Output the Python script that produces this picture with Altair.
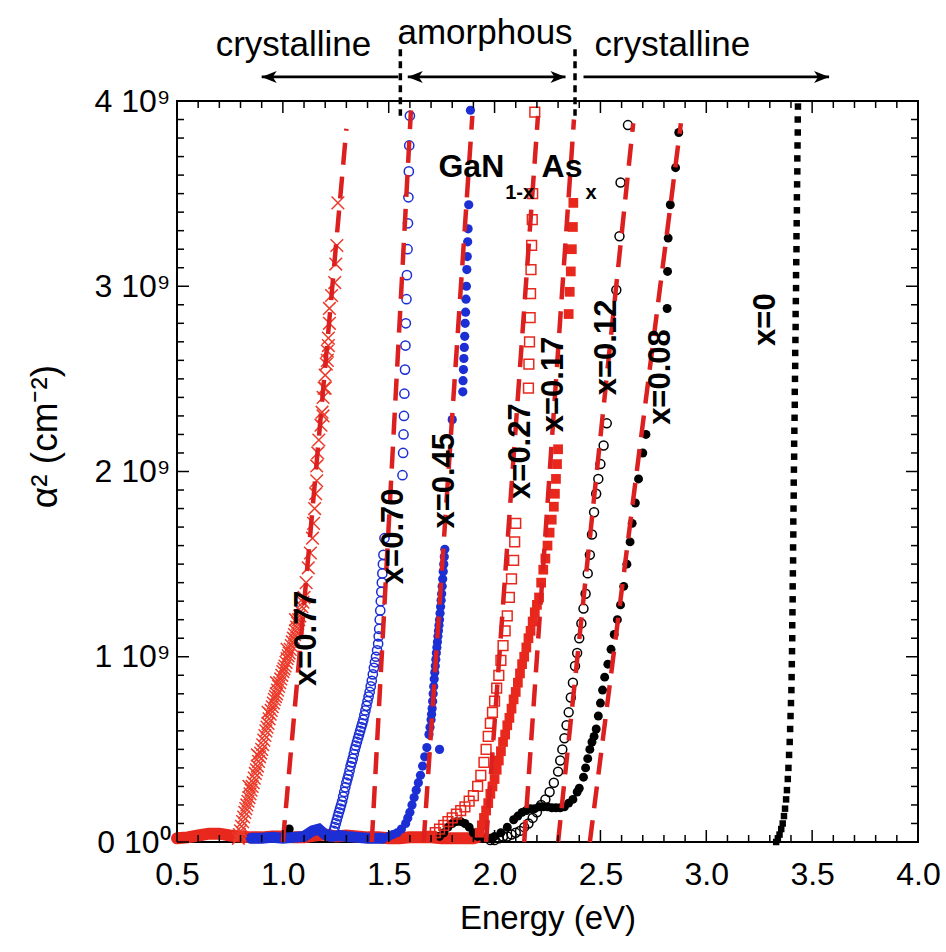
import altair as alt
import pandas as pd

RED = "#e8281c"
XRED = "#ec3a2a"
FIT = "#dc2020"
BLUE = "#1b2fd4"
BLACK = "#000000"
FONT = "Liberation Sans"

# ---- data: (photon energy in eV, alpha^2 in units of 1e9 cm^-2) ----
s077 = [(0.79,0.02),(0.80,0.06),(0.81,0.11),(0.82,0.16),(0.83,0.20),(0.84,0.24),(0.85,0.28),(0.86,0.32),
        (0.87,0.37),(0.88,0.41),(0.89,0.46),(0.90,0.50),(0.91,0.55),(0.92,0.60),(0.93,0.64),(0.94,0.69),
        (0.95,0.73),(0.96,0.77),(0.97,0.80),(0.98,0.84),(0.99,0.88),(1.00,0.92),(1.01,0.95),(1.02,0.99),
        (1.03,1.02),(1.04,1.06),(1.05,1.10),(1.06,1.14),(1.07,1.18),(1.08,1.22),(1.09,1.27),(1.10,1.32),
        (1.11,1.40),(1.12,1.48),(1.13,1.56),(1.14,1.64),(1.145,1.72),(1.15,1.80),(1.155,1.88),(1.16,1.95),
        (1.16,2.03),(1.165,2.10),(1.17,2.17),(1.18,2.25),(1.185,2.32),(1.19,2.40),(1.195,2.45),(1.20,2.52),
        (1.205,2.58),(1.21,2.65),(1.215,2.72),(1.22,2.80),(1.22,2.88),(1.23,2.95),(1.245,3.02),(1.25,3.12),
        (1.255,3.22),(1.26,3.45)]
s077_band = [(0.795,0.04),(0.805,0.085),(0.815,0.135),(0.825,0.18),(0.835,0.22),(0.845,0.26),(0.855,0.30),
             (0.865,0.345),(0.875,0.39),(0.885,0.435),(0.895,0.48),(0.905,0.525),(0.915,0.575),(0.925,0.62),
             (0.935,0.665),(0.945,0.71),(0.955,0.75),(0.965,0.785),(0.975,0.82),(0.985,0.86),(0.995,0.90),
             (1.005,0.935),(1.015,0.97),(1.025,1.005),(1.035,1.04),(1.045,1.08),(1.055,1.12),(1.065,1.16),
             (1.075,1.20),(1.085,1.245),(1.095,1.295),(0.84,0.30),(0.88,0.47),(0.93,0.70),(0.97,0.86),
             (1.02,1.04),(1.06,1.20),(1.19,2.30),(1.20,2.45),(1.21,2.60),(1.215,2.68)]
s070 = [(1.24,0.06),(1.25,0.10),(1.26,0.14),(1.27,0.18),(1.28,0.22),(1.29,0.27),(1.30,0.32),(1.31,0.36),
        (1.32,0.41),(1.33,0.45),(1.34,0.50),(1.35,0.54),(1.36,0.58),(1.37,0.62),(1.38,0.66),(1.39,0.71),
        (1.40,0.76),(1.41,0.81),(1.42,0.87),(1.43,0.94),(1.44,1.00),(1.45,1.07),(1.455,1.15),(1.46,1.25),
        (1.465,1.35),(1.47,1.45),(1.475,1.55),(1.48,1.64),
        (1.565,1.98),(1.568,2.10),(1.570,2.20),
        (1.572,2.30),(1.574,2.42),(1.577,2.55),(1.579,2.68),(1.581,2.80),(1.584,2.93),(1.586,3.06),
        (1.589,3.20),(1.591,3.34),(1.593,3.48),(1.595,3.62),(1.597,3.76),(1.600,3.92)]
s070_band = [(1.245,0.08),(1.255,0.12),(1.265,0.16),(1.275,0.20),(1.285,0.245),(1.295,0.295),(1.305,0.34),
             (1.315,0.385),(1.325,0.43),(1.335,0.475),(1.345,0.52),(1.355,0.56),(1.365,0.60),(1.375,0.64),
             (1.385,0.685),(1.395,0.735),(1.405,0.785),(1.415,0.84),(1.425,0.905),(1.435,0.97),
             (1.445,1.035),(1.4525,1.11),(1.4575,1.20),(1.4625,1.30),(1.4675,1.40),(1.4725,1.50)]
s045 = [(1.47,0.02),(1.50,0.03),(1.52,0.04),(1.54,0.05),(1.56,0.07),(1.58,0.10),(1.59,0.13),(1.60,0.16),
        (1.61,0.20),(1.62,0.24),(1.63,0.28),(1.64,0.32),(1.65,0.36),(1.66,0.41),(1.67,0.46),(1.68,0.51),
        (1.69,0.58),(1.70,0.66),(1.705,0.72),(1.71,0.80),(1.715,0.88),(1.72,0.95),(1.725,1.02),(1.73,1.08),
        (1.735,1.14),(1.74,1.20),(1.745,1.27),(1.75,1.34),(1.755,1.42),(1.76,1.50),(1.765,1.58),
        (1.74,0.50),
        (1.80,2.28),(1.850,2.43),(1.851,2.49),(1.853,2.55),(1.855,2.61),(1.857,2.67),(1.859,2.73),
        (1.861,2.80),(1.863,2.86),(1.865,2.93),(1.867,3.00),(1.869,3.09),(1.871,3.16),(1.873,3.24),
        (1.875,3.31),(1.878,3.44),(1.886,3.95)]
s045_band = [(1.695,0.62),(1.7025,0.69),(1.7075,0.76),(1.7125,0.84),(1.7175,0.915),(1.7225,0.985),
             (1.7275,1.05),(1.7325,1.11),(1.7375,1.17),(1.7425,1.235),(1.7475,1.305),(1.7525,1.38),
             (1.7575,1.46),(1.7625,1.54)]
s027 = [(1.70,0.03),(1.72,0.05),(1.74,0.07),(1.76,0.09),(1.78,0.11),(1.80,0.13),(1.82,0.15),(1.84,0.17),
        (1.86,0.19),(1.88,0.22),(1.90,0.25),(1.92,0.30),(1.935,0.36),(1.95,0.43),(1.96,0.50),(1.97,0.57),
        (1.98,0.64),(1.99,0.70),(2.00,0.76),(2.01,0.83),(2.02,0.90),(2.03,0.98),(2.04,1.06),(2.05,1.14),
        (2.06,1.22),(2.07,1.32),(2.08,1.42),(2.09,1.52),(2.095,1.62),(2.10,1.72),
        (2.16,2.45),(2.162,2.58),(2.165,2.70),(2.168,2.83),(2.17,2.96),(2.172,3.09),(2.175,3.22),
        (2.178,3.36),(2.18,3.50),(2.19,3.94)]
s017 = [(1.93,0.05),(1.94,0.09),(1.95,0.13),(1.96,0.17),(1.97,0.21),(1.98,0.26),(1.99,0.30),(2.00,0.34),
        (2.01,0.39),(2.02,0.44),(2.03,0.49),(2.04,0.54),(2.05,0.58),(2.06,0.63),(2.07,0.67),(2.08,0.72),
        (2.09,0.77),(2.10,0.81),(2.11,0.86),(2.12,0.91),(2.13,0.96),(2.14,1.00),(2.15,1.05),(2.16,1.10),
        (2.17,1.14),(2.18,1.19),(2.19,1.24),(2.20,1.28),(2.21,1.32),(2.22,1.40),(2.23,1.47),(2.24,1.53),
        (2.25,1.60),(2.26,1.67),(2.27,1.74),(2.28,1.81),(2.285,1.88),(2.29,1.96),(2.295,2.04),(2.30,2.12),
        (2.35,2.85),(2.355,2.97),(2.36,3.08),(2.365,3.20),(2.37,3.32),(2.372,3.45)]
s012 = [(1.98,0.01),(2.00,0.01),(2.02,0.02),(2.04,0.03),(2.06,0.03),(2.08,0.04),(2.10,0.05),(2.12,0.06),
        (2.14,0.08),(2.16,0.10),(2.18,0.13),(2.20,0.16),(2.22,0.20),(2.24,0.23),(2.26,0.27),(2.28,0.32),
        (2.30,0.38),(2.31,0.44),(2.32,0.50),(2.33,0.56),(2.34,0.63),(2.35,0.70),(2.36,0.78),(2.37,0.86),
        (2.38,0.95),(2.39,1.02),(2.40,1.10),(2.41,1.18),(2.42,1.26),(2.43,1.34),(2.44,1.45),(2.45,1.55),
        (2.46,1.66),(2.47,1.78),(2.48,1.88),(2.49,1.96),(2.50,2.04),(2.515,2.14),(2.53,2.26),
        (2.575,2.98),(2.59,3.27),(2.595,3.56),(2.63,3.87)]
s008 = [(1.03,0.07),(1.74,0.03),(1.76,0.05),(1.78,0.08),(1.80,0.10),(1.82,0.11),(1.84,0.11),(1.86,0.10),
        (1.88,0.08),(1.90,0.05),(1.92,0.03),(1.95,0.02),(1.98,0.02),(2.00,0.03),(2.03,0.05),(2.06,0.08),
        (2.09,0.12),(2.11,0.14),(2.13,0.16),(2.15,0.17),(2.17,0.18),(2.19,0.18),(2.21,0.19),(2.23,0.19),
        (2.25,0.19),(2.27,0.185),(2.29,0.185),(2.31,0.185),(2.33,0.19),(2.35,0.21),(2.37,0.23),(2.39,0.27),
        (2.40,0.29),(2.42,0.35),(2.43,0.40),(2.44,0.45),(2.45,0.50),(2.46,0.54),(2.47,0.57),(2.48,0.61),
        (2.49,0.68),(2.50,0.75),(2.51,0.82),(2.52,0.89),(2.535,0.96),(2.55,1.04),(2.565,1.12),(2.58,1.20),
        (2.595,1.28),(2.61,1.38),(2.625,1.50),(2.64,1.62),(2.65,1.72),(2.665,1.83),(2.68,1.96),(2.70,2.10),
        (2.715,2.20),
        (2.815,2.88),(2.817,3.08),(2.82,3.26),(2.83,3.44),(2.855,3.64),(2.87,3.83)]
s000 = [(3.330,0.00),(3.338,0.02),(3.346,0.04),(3.354,0.07),(3.361,0.10),(3.367,0.14),(3.372,0.18),
        (3.377,0.23),(3.381,0.28),(3.385,0.34),(3.388,0.40),(3.391,0.47),(3.394,0.54),(3.396,0.61),
        (3.398,0.68),(3.400,0.75),(3.402,0.82),(3.403,0.89),(3.404,0.96),(3.405,1.03),(3.406,1.10),
        (3.406,1.17),(3.407,1.24),(3.408,1.31),(3.408,1.38),(3.409,1.45),(3.410,1.52),(3.410,1.59),
        (3.411,1.66),(3.411,1.73),(3.412,1.80),(3.413,1.87),(3.413,1.94),(3.414,2.01),(3.415,2.08),
        (3.415,2.15),(3.416,2.22),(3.417,2.29),(3.418,2.36),(3.418,2.43),(3.419,2.50),(3.420,2.57),
        (3.420,2.64),(3.421,2.71),(3.422,2.78),(3.422,2.85),(3.423,2.92),(3.424,2.99),(3.424,3.06),
        (3.425,3.13),(3.426,3.20),(3.426,3.27),(3.427,3.34),(3.428,3.41),(3.428,3.48),(3.429,3.55),
        (3.430,3.62),(3.430,3.69),(3.431,3.76),(3.432,3.83),(3.432,3.90),(3.433,3.97)]

red_base = [(0.50,0.02),(0.55,0.025),(0.60,0.035),(0.65,0.045),(0.70,0.045),(0.75,0.035),(0.80,0.03),
            (0.85,0.025),(0.90,0.025),(0.95,0.03),(1.00,0.03),(1.05,0.025),(1.10,0.025),(1.15,0.035),
            (1.20,0.04),(1.25,0.03),(1.30,0.035),(1.35,0.03),(1.40,0.025),(1.45,0.025),(1.50,0.02),
            (1.55,0.02),(1.60,0.025),(1.65,0.025),(1.70,0.025),(1.75,0.02),(1.80,0.02),(1.85,0.02),
            (1.90,0.02),(1.93,0.03)]
blue_base = [(0.85,0.02),(0.90,0.02),(0.95,0.025),(1.00,0.02),(1.05,0.025),(1.10,0.03),(1.14,0.06),
             (1.17,0.07),(1.20,0.04),(1.23,0.03),(1.27,0.035),(1.30,0.03),(1.35,0.025),(1.40,0.02),
             (1.45,0.02),(1.47,0.02)]

# linear fits: composition, E, alpha^2 (end points of each dashed line)
fits = [("0.77",1.000,0.0),("0.77",1.300,3.85),
        ("0.70",1.420,0.0),("0.70",1.605,3.95),
        ("0.45",1.665,0.0),("0.45",1.895,3.92),
        ("0.27",1.960,0.0),("0.27",2.205,3.92),
        ("0.17",2.140,0.0),("0.17",2.375,3.90),
        ("0.12",2.300,0.0),("0.12",2.655,3.88),
        ("0.08",2.450,0.0),("0.08",2.880,3.88)]

labels = [("x=0.77",1.115,1.10),("x=0.70",1.525,1.65),("x=0.45",1.765,1.95),("x=0.27",2.125,2.11),
          ("x=0.17",2.283,2.47),("x=0.12",2.532,2.67),("x=0.08",2.785,2.51),("x=0",3.283,2.82)]

formula_big = [("GaN",1.735,3.59),("As",2.222,3.59)]
formula_sub = [("1-x",2.050,3.47),("x",2.430,3.47)]

phase_text = [("crystalline",1.050,4.245),("amorphous",1.955,4.31),("crystalline",2.840,4.245)]
phase_bounds = [1.555, 2.380]
arrows = [(0.900,1.545),(1.590,2.335),(2.420,3.580)]
arrow_left_tips = [0.900, 1.590]
arrow_right_tips = [2.335, 3.580]

x_major = [0.5,1.0,1.5,2.0,2.5,3.0,3.5,4.0]
x_minor = [0.6,0.7,0.8,0.9,1.1,1.2,1.3,1.4,1.6,1.7,1.8,1.9,2.1,2.2,2.3,2.4,2.6,2.7,2.8,2.9,
           3.1,3.2,3.3,3.4,3.6,3.7,3.8,3.9]
y_major = [0,1,2,3,4]
y_minor = [0.1,0.2,0.3,0.4,0.5,0.6,0.7,0.8,0.9,1.1,1.2,1.3,1.4,1.5,1.6,1.7,1.8,1.9,
           2.1,2.2,2.3,2.4,2.5,2.6,2.7,2.8,2.9,3.1,3.2,3.3,3.4,3.5,3.6,3.7,3.8,3.9]

# ---- chart ----
W, H = 741, 741
xs = alt.Scale(domain=[0.5, 4.0], nice=False, zero=False)
ys = alt.Scale(domain=[0, 4], nice=False, zero=False)

x_axis = alt.Axis(values=x_major, format=".1f", labelFontSize=32, labelFont=FONT, labelColor=BLACK,
                  ticks=False, domain=False, grid=False, labelPadding=17, labelOverlap=False,
                  labelFlush=False, title="Energy (eV)", titleFontSize=33, titleFont=FONT,
                  titleFontWeight="normal", titleColor=BLACK, titlePadding=12)
y_axis = alt.Axis(values=y_major,
                  labelExpr="datum.value == 0 ? '0 10⁰' : format(datum.value, 'd') + ' 10⁹'",
                  labelFontSize=32, labelFont=FONT, labelColor=BLACK, ticks=False, domain=False,
                  grid=False, labelPadding=7, labelOverlap=False, labelFlush=False,
                  title="α² (cm⁻²)", titleFontSize=37, titleFont=FONT, titleFontWeight="normal",
                  titleColor=BLACK, titleX=-113, titleY=335, titleAngle=270,
                  titleAlign="center", titleBaseline="bottom")


def D(pairs):
    return pd.DataFrame(pairs, columns=["E", "A"])


def XE():
    return alt.X("E:Q", scale=xs, axis=x_axis)


def YA():
    return alt.Y("A:Q", scale=ys, axis=y_axis)


base_red = alt.Chart(D(red_base)).mark_line(color=RED, strokeWidth=12, strokeCap="round").encode(
    x=XE(), y=YA())
base_blue = alt.Chart(D(blue_base)).mark_line(color=BLUE, strokeWidth=11, strokeCap="round").encode(
    x=XE(), y=YA())

CROSS = "M-1,-1L1,1M-1,1L1,-1"


def pts(pairs, shape, color, size, filled, sw=1.4):
    return alt.Chart(D(pairs)).mark_point(shape=shape, color=color, size=size, filled=filled,
                                          strokeWidth=sw, opacity=1).encode(x=XE(), y=YA())


p008 = pts(s008, "circle", BLACK, 80, True)
p012 = pts(s012, "circle", BLACK, 80, False, 1.5)
p017 = pts(s017, "square", RED, 95, True)
p027 = pts(s027, "square", RED, 95, False, 1.5)
p045 = pts(s045 + s045_band, "circle", BLUE, 85, True)
p070 = pts(s070 + s070_band, "circle", BLUE, 85, False, 1.5)
p077 = pts(s077 + s077_band, CROSS, XRED, 160, False, 1.5)
p000 = pts(s000, "square", BLACK, 42, True)

fit_df = pd.DataFrame(fits, columns=["s", "E", "A"])
fit_layer = alt.Chart(fit_df).mark_line(color=FIT, strokeWidth=4.5, strokeDash=[22, 12]).encode(
    x=XE(), y=YA(), detail="s:N")

lab_df = pd.DataFrame(labels, columns=["t", "E", "A"])
lab_layer = alt.Chart(lab_df).mark_text(angle=270, font=FONT, fontSize=31, fontWeight="bold",
                                        color=BLACK, align="center", baseline="middle").encode(
    x=XE(), y=YA(), text="t:N")

fbig = alt.Chart(pd.DataFrame(formula_big, columns=["t", "E", "A"])).mark_text(
    font=FONT, fontSize=32, fontWeight="bold", color=BLACK, align="left", baseline="alphabetic").encode(
    x=XE(), y=YA(), text="t:N")
fsub = alt.Chart(pd.DataFrame(formula_sub, columns=["t", "E", "A"])).mark_text(
    font=FONT, fontSize=20, fontWeight="bold", color=BLACK, align="left", baseline="alphabetic").encode(
    x=XE(), y=YA(), text="t:N")

ptxt = alt.Chart(pd.DataFrame(phase_text, columns=["t", "E", "A"])).mark_text(
    font=FONT, fontSize=35, color=BLACK, align="center", baseline="alphabetic").encode(
    x=XE(), y=YA(), text="t:N")

arrow_df = pd.DataFrame(arrows, columns=["E", "E2"]).assign(A=4.13)
arrow_lines = alt.Chart(arrow_df).mark_rule(color=BLACK, strokeWidth=2.8).encode(
    x=XE(), x2="E2:Q", y=YA())
LEFT_HEAD = "M0,0L3,-1.2L2.2,0L3,1.2Z"
RIGHT_HEAD = "M0,0L-3,-1.2L-2.2,0L-3,1.2Z"
lh = alt.Chart(pd.DataFrame({"E": arrow_left_tips, "A": 4.13})).mark_point(
    shape=LEFT_HEAD, size=100, filled=True, color=BLACK, opacity=1).encode(x=XE(), y=YA())
rh = alt.Chart(pd.DataFrame({"E": arrow_right_tips, "A": 4.13})).mark_point(
    shape=RIGHT_HEAD, size=100, filled=True, color=BLACK, opacity=1).encode(x=XE(), y=YA())

bounds = alt.Chart(pd.DataFrame({"E": phase_bounds, "A": 4.28, "A2": 3.92})).mark_rule(
    color=BLACK, strokeWidth=3.5, strokeDash=[7, 5]).encode(x=XE(), y=YA(), y2="A2:Q")


def xticks(vals, size):
    d = pd.DataFrame({"E": vals})
    b = alt.Chart(d).mark_rule(color=BLACK, strokeWidth=1.5).encode(
        x=XE(), y=alt.value(H), y2=alt.value(H - size))
    t = alt.Chart(d).mark_rule(color=BLACK, strokeWidth=1.5).encode(
        x=XE(), y=alt.value(0), y2=alt.value(size))
    return [b, t]


def yticks(vals, size):
    d = pd.DataFrame({"A": vals})
    l = alt.Chart(d).mark_rule(color=BLACK, strokeWidth=1.5).encode(
        y=YA(), x=alt.value(0), x2=alt.value(size))
    r = alt.Chart(d).mark_rule(color=BLACK, strokeWidth=1.5).encode(
        y=YA(), x=alt.value(W), x2=alt.value(W - size))
    return [l, r]


tick_layers = xticks(x_major, 12) + xticks(x_minor, 7) + yticks(y_major, 12) + yticks(y_minor, 7)

chart = alt.layer(
    base_red, p008, p012, p017, p027, base_blue, p045, p070, p077, p000,
    fit_layer, lab_layer, fbig, fsub, ptxt, arrow_lines, lh, rh, bounds, *tick_layers
).properties(
    width=W, height=H,
    autosize=alt.AutoSizeParams(type="none"),
    padding={"left": 177, "top": 101, "right": 28, "bottom": 110},
    background="white",
).configure_view(stroke=BLACK, strokeWidth=2)

chart.save("out.html", embed_options={"renderer": "svg", "actions": False})
